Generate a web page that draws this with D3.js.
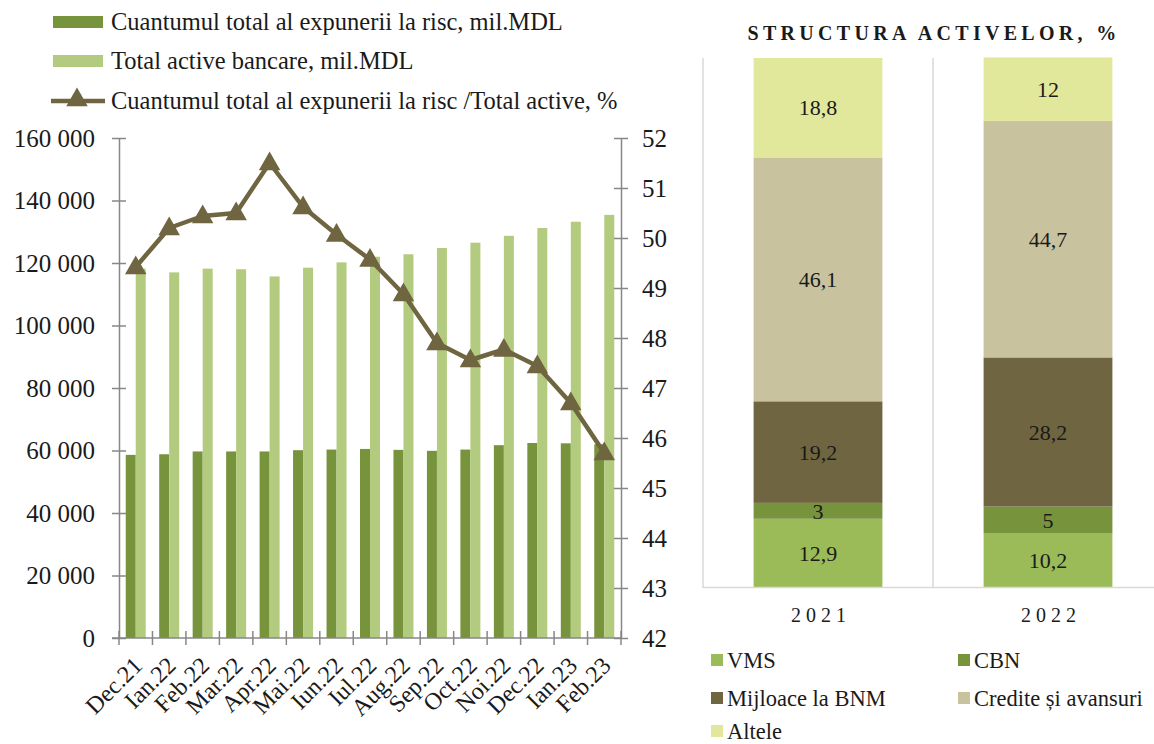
<!DOCTYPE html>
<html>
<head>
<meta charset="utf-8">
<script src="https://cdn.jsdelivr.net/npm/d3@7"></script>
<style>
  body { margin: 0; background: #fff; }
  svg text { font-family: 'Liberation Serif', 'DejaVu Serif', serif; fill: #1a1a1a; }
</style>
</head>
<body>
<script>
// left chart data
var months = ['Dec.21', 'Ian.22', 'Feb.22', 'Mar.22', 'Apr.22', 'Mai.22', 'Iun.22', 'Iul.22',
  'Aug.22', 'Sep.22', 'Oct.22', 'Noi.22', 'Dec.22', 'Ian.23', 'Feb.23'];
var riskExposure = [58600, 58800, 59700, 59700, 59700, 60100, 60300, 60500, 60200, 59900,
  60300, 61700, 62400, 62300, 62000];
var totalAssets = [118200, 117000, 118200, 118000, 115700, 118500, 120200, 122000, 122800,
  124800, 126500, 128700, 131200, 133200, 135400];
var ratio = [49.42, 50.2, 50.44, 50.5, 51.5, 50.62, 50.07, 49.57, 48.88, 47.9, 47.56, 47.77,
  47.44, 46.7, 45.7];
var leftTicks = [0, 20000, 40000, 60000, 80000, 100000, 120000, 140000, 160000];
var rightTicks = [42, 43, 44, 45, 46, 47, 48, 49, 50, 51, 52];
var lineLegend = ['Cuantumul total al expunerii la risc, mil.MDL', 'Total active bancare, mil.MDL',
  'Cuantumul total al expunerii la risc /Total active, %'];

// right chart data
var years = ['2021', '2022'];
var structKeys = ['VMS', 'CBN', 'Mijloace la BNM', 'Credite și avansuri', 'Altele'];
var vms = [12.9, 10.2];
var cbn = [3, 5];
var bnm = [19.2, 28.2];
var credite = [46.1, 44.7];
var altele = [18.8, 12];

var colDark = '#77933c';
var colLight = '#b3cb7e';
var colLine = '#6f6540';
var structColors = ['#9bbb59', '#77933c', '#6f6540', '#c8c39e', '#e2e89b'];
var axisGray = '#878787';

var svg = d3.select('body').append('svg')
    .attr('width', 1154)
    .attr('height', 744);

// ---------- left combo chart ----------
var x = d3.scaleBand().domain(months).range([119, 621]);
var yL = d3.scaleLinear().domain([0, 160000]).range([638, 138]);
var yR = d3.scaleLinear().domain([42, 52]).range([638, 138]);
var barW = 10;

var fmt = function (d) { return d3.format(',')(d).replace(/,/g, ' '); };

var left = svg.append('g');

left.selectAll('rect.dark')
    .data(riskExposure)
    .enter().append('rect')
    .attr('class', 'dark')
    .attr('x', function (d, i) { return x(months[i]) + x.bandwidth() / 2 - barW; })
    .attr('y', function (d) { return yL(d); })
    .attr('width', barW)
    .attr('height', function (d) { return yL(0) - yL(d); })
    .attr('fill', colDark);

left.selectAll('rect.light')
    .data(totalAssets)
    .enter().append('rect')
    .attr('class', 'light')
    .attr('x', function (d, i) { return x(months[i]) + x.bandwidth() / 2; })
    .attr('y', function (d) { return yL(d); })
    .attr('width', barW)
    .attr('height', function (d) { return yL(0) - yL(d); })
    .attr('fill', colLight);

// axes (ticks cross the axis line, so they are drawn by hand)
var axL = left.append('g')
    .attr('transform', 'translate(119,0)')
    .call(d3.axisLeft(yL).tickValues(leftTicks).tickFormat(fmt).tickSizeOuter(0).tickSize(0).tickPadding(24));
var axR = left.append('g')
    .attr('transform', 'translate(621,0)')
    .call(d3.axisRight(yR).tickValues(rightTicks).tickFormat(d3.format('d')).tickSizeOuter(0).tickSize(0).tickPadding(21));
[axL, axR].forEach(function (a) {
  a.select('.domain').attr('stroke', axisGray).attr('stroke-width', 1.5);
  a.selectAll('.tick line').remove();
  a.selectAll('.tick').append('line')
    .attr('x1', -7).attr('x2', 7)
    .attr('stroke', axisGray).attr('stroke-width', 1.5);
  a.selectAll('.tick text').attr('font-size', 25).attr('fill', '#1a1a1a')
    .attr('font-family', 'Liberation Serif');
});

var axX = left.append('g')
    .attr('transform', 'translate(0,638)');
axX.append('line')
    .attr('x1', 112).attr('x2', 621)
    .attr('stroke', axisGray).attr('stroke-width', 1.5);
axX.selectAll('line.tk')
    .data(months.concat(['end']))
    .enter().append('line')
    .attr('class', 'tk')
    .attr('x1', function (d, i) { return i < months.length ? x(d) : x.range()[1]; })
    .attr('x2', function (d, i) { return i < months.length ? x(d) : x.range()[1]; })
    .attr('y1', -7).attr('y2', 7)
    .attr('stroke', axisGray).attr('stroke-width', 1.5);
axX.selectAll('text')
    .data(months)
    .enter().append('text')
    .attr('transform', function (d) {
      return 'translate(' + (x(d) + x.bandwidth() / 2 + 8) + ',29) rotate(-45)';
    })
    .attr('text-anchor', 'end')
    .attr('font-size', 24)
    .text(function (d) { return d; });

// ratio line
var line = d3.line()
    .x(function (d, i) { return x(months[i]) + x.bandwidth() / 2; })
    .y(function (d) { return yR(d); });
left.append('path')
    .datum(ratio)
    .attr('d', line)
    .attr('fill', 'none')
    .attr('stroke', colLine)
    .attr('stroke-width', 4.5)
    .attr('stroke-linejoin', 'round');

var tri = d3.symbol().type(d3.symbolTriangle).size(200);
left.selectAll('path.mk')
    .data(ratio)
    .enter().append('path')
    .attr('class', 'mk')
    .attr('d', tri)
    .attr('transform', function (d, i) {
      return 'translate(' + (x(months[i]) + x.bandwidth() / 2) + ',' + (yR(d) + 1) + ')';
    })
    .attr('fill', colLine);

// legend
var lg = svg.append('g');
var lgRows = [22, 61, 101];
lg.append('rect').attr('x', 53).attr('y', lgRows[0] - 6).attr('width', 50).attr('height', 12).attr('fill', colDark);
lg.append('rect').attr('x', 53).attr('y', lgRows[1] - 6).attr('width', 50).attr('height', 12).attr('fill', colLight);
lg.append('line').attr('x1', 51).attr('x2', 105).attr('y1', lgRows[2]).attr('y2', lgRows[2])
    .attr('stroke', colLine).attr('stroke-width', 4.5);
lg.append('path').attr('d', tri).attr('transform', 'translate(77,' + (lgRows[2] - 1) + ')').attr('fill', colLine);
lg.selectAll('text')
    .data(lineLegend)
    .enter().append('text')
    .attr('x', 111)
    .attr('y', function (d, i) { return lgRows[i]; })
    .attr('dy', '0.33em')
    .attr('font-size', 24.5)
    .text(function (d) { return d; });

// ---------- right stacked chart ----------
var series = [vms, cbn, bnm, credite, altele];
var rows = years.map(function (yr, j) {
  var r = {year: yr};
  structKeys.forEach(function (k, i) { r[k] = series[i][j]; });
  return r;
});
var stacked = d3.stack().keys(structKeys)(rows);

var xs = d3.scaleBand().domain(years).range([703, 1163]).paddingInner(0.44).paddingOuter(0.22);
var ys = d3.scaleLinear().domain([0, 100]).range([587, 58]);

var right = svg.append('g');
right.selectAll('line.grid')
    .data([703, 933])
    .enter().append('line')
    .attr('class', 'grid')
    .attr('x1', function (d) { return d; }).attr('x2', function (d) { return d; })
    .attr('y1', 58).attr('y2', 588)
    .attr('stroke', '#d9d9d9').attr('stroke-width', 1.5);

var layer = right.selectAll('g.layer')
    .data(stacked)
    .enter().append('g')
    .attr('class', 'layer')
    .attr('fill', function (d, i) { return structColors[i]; });
layer.selectAll('rect')
    .data(function (d) { return d; })
    .enter().append('rect')
    .attr('x', function (d) { return xs(d.data.year); })
    .attr('y', function (d) { return ys(d[1]); })
    .attr('width', xs.bandwidth())
    .attr('height', function (d) { return ys(d[0]) - ys(d[1]); });
layer.selectAll('text')
    .data(function (d) { return d; })
    .enter().append('text')
    .attr('x', function (d) { return xs(d.data.year) + xs.bandwidth() / 2; })
    .attr('y', function (d) { return ys((d[0] + d[1]) / 2); })
    .attr('dy', '0.35em')
    .attr('text-anchor', 'middle')
    .attr('font-size', 22)
    .style('fill', '#1a1a1a')
    .text(function (d) { return String(+(d[1] - d[0]).toFixed(1)).replace('.', ','); });

right.append('line')
    .attr('x1', 703).attr('x2', 1154).attr('y1', 587.5).attr('y2', 587.5)
    .attr('stroke', '#d9d9d9').attr('stroke-width', 1.5);

right.selectAll('text.yr')
    .data(years)
    .enter().append('text')
    .attr('class', 'yr')
    .attr('x', function (d) { return xs(d) + xs.bandwidth() / 2 + 3; })
    .attr('y', 615)
    .attr('dy', '0.35em')
    .attr('text-anchor', 'middle')
    .attr('font-size', 20)
    .attr('letter-spacing', 5)
    .text(function (d) { return d; });

right.append('text')
    .attr('x', 934)
    .attr('y', 33)
    .attr('dy', '0.35em')
    .attr('text-anchor', 'middle')
    .attr('font-size', 20)
    .attr('font-weight', 'bold')
    .attr('letter-spacing', 4.3)
    .text('STRUCTURA ACTIVELOR, %');

var leg = right.selectAll('g.leg')
    .data(structKeys)
    .enter().append('g')
    .attr('class', 'leg')
    .attr('transform', function (d, i) {
      return 'translate(' + (i % 2 ? 958 : 711) + ',' + [660, 698, 731][Math.floor(i / 2)] + ')';
    });
leg.append('rect')
    .attr('x', 0).attr('y', -6).attr('width', 12).attr('height', 12)
    .attr('fill', function (d, i) { return structColors[i]; });
leg.append('text')
    .attr('x', 16)
    .attr('dy', '0.35em')
    .attr('font-size', 22.5)
    .text(function (d) { return d; });
</script>
</body>
</html>
